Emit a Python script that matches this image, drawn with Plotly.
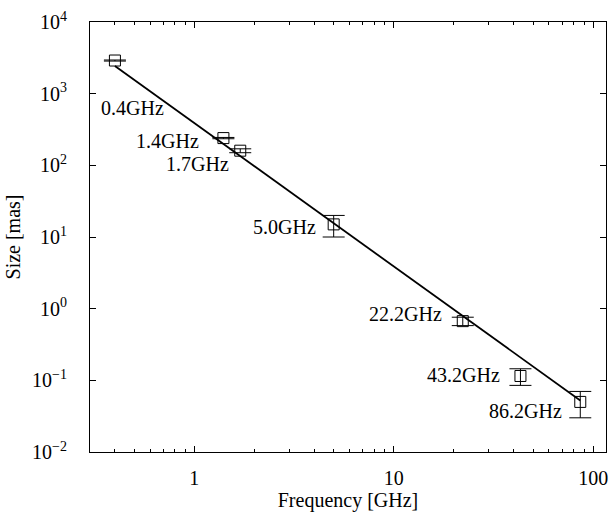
import math
import plotly.graph_objects as go

# Observed source size versus observing frequency
freq_ghz = [0.4, 1.4, 1.7, 5.0, 22.2, 43.2, 86.2]
size_mas = [2900, 240, 160, 15, 0.67, 0.115, 0.05]
size_err = [50, 5, 10, 5, 0.09, 0.03, 0.02]
point_labels = ["0.4GHz", "1.4GHz", "1.7GHz", "5.0GHz", "22.2GHz", "43.2GHz", "86.2GHz"]

# Power-law fit (size ~ nu^-2) drawn across the observed band
fit_freq = [0.4, 86.2]
fit_size = [2430, 0.0524]

# Axis ticks
x_tick_vals = [1, 10, 100]
x_tick_text = ["1", "10", "100"]
y_exponents = [-2, -1, 0, 1, 2, 3, 4]

# Label offsets (pixels) relative to each point
label_dx = [51, -22, -9, -16, -19, -18, -16]
label_dy = [-47, -3, -13, -3, 7, 1, -9]

FONT = "Liberation Serif"
FS = 20

fig = go.Figure()

fig.add_trace(go.Scatter(
    x=fit_freq, y=fit_size, mode="lines",
    line=dict(color="black", width=1.8),
    showlegend=False, hoverinfo="skip",
))

fig.add_trace(go.Scatter(
    x=freq_ghz, y=size_mas, mode="markers",
    marker=dict(symbol="square-open", size=11, color="black",
                line=dict(color="black", width=1)),
    error_y=dict(type="data", array=size_err, visible=True,
                 color="black", thickness=1, width=11),
    showlegend=False,
))

# annotations on log axes take log10 coordinates
for f, s, lab, dx, dy in zip(freq_ghz, size_mas, point_labels, label_dx, label_dy):
    fig.add_annotation(
        x=math.log10(f), y=math.log10(s), xref="x", yref="y", text=lab,
        showarrow=False, xanchor="right", yanchor="middle", xshift=dx, yshift=dy,
        font=dict(family=FONT, size=FS, color="black"),
    )

fig.update_xaxes(
    type="log", range=[-0.5229, 2.0645],
    tickvals=x_tick_vals, ticktext=x_tick_text,
    ticks="inside", ticklen=6, tickcolor="black", tickwidth=1,
    minor=dict(ticks="inside", ticklen=3, dtick="D1", tickcolor="black", tickwidth=1),
    showline=True, linecolor="black", linewidth=1, mirror="ticks",
    showgrid=False, zeroline=False,
    tickfont=dict(family=FONT, size=FS, color="black"),
    ticklabelstandoff=8,
    title=dict(text="Frequency [GHz]", font=dict(family=FONT, size=FS, color="black"),
               standoff=0),
)

fig.update_yaxes(
    type="log", range=[-2, 4],
    tickvals=[10.0 ** e for e in y_exponents],
    ticktext=["10<sup>%s</sup>" % (str(e).replace("-", "\u2212")) for e in y_exponents],
    ticks="inside", ticklen=6, tickcolor="black", tickwidth=1,
    showline=True, linecolor="black", linewidth=1, mirror="ticks",
    showgrid=False, zeroline=False,
    tickfont=dict(family=FONT, size=FS, color="black"),
    ticklabelstandoff=18,
    title=dict(text="Size [mas]", font=dict(family=FONT, size=FS, color="black"),
               standoff=6),
)

fig.update_layout(
    width=610, height=515,
    margin=dict(l=90, r=4, t=22, b=63, autoexpand=False),
    paper_bgcolor="white", plot_bgcolor="white",
    showlegend=False,
)

fig.write_html("out.html")
